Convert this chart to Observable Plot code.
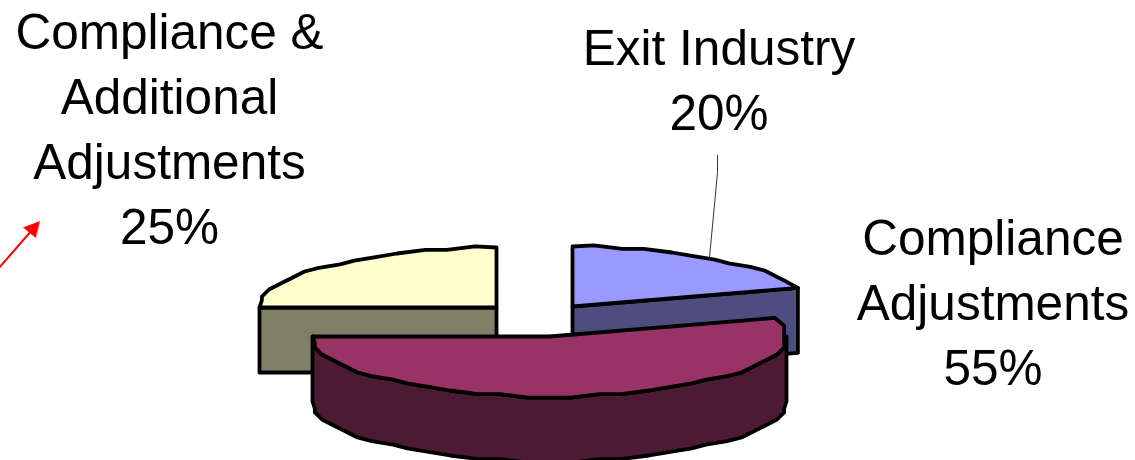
<!DOCTYPE html>
<html>
<head>
<meta charset="utf-8">
<script src="https://cdn.jsdelivr.net/npm/d3@7"></script>
<script src="https://cdn.jsdelivr.net/npm/@observablehq/plot@0.6"></script>
<style>html,body{margin:0;padding:0;background:#fff}svg{display:block}</style>
</head>
<body>
<div id="chart"></div>
<script>
// Data
const categories = ["Compliance &\nAdditional\nAdjustments", "Exit Industry", "Compliance\nAdjustments"];
const shares = [25, 20, 55];

// Layout (px; converted to radius units for the scales below)
const W = 1135, H = 460, CX = 549, CY = 336, RX = 237, RY = 60, DEPTH = 65;
const toX = px => (px - CX) / RX, toY = py => (CY - py) / RY;
const depth = DEPTH / RY;
const STEP = 6, QX = 0.03, QY = 0.06;   // coarse raster of the arcs

// Pie layout: slices run clockwise from the top; yellow ends at 360°, blue starts at 0°.
const a = shares.map(s => s * 3.6);
const slices = [
  {a0: 360 - a[0], a1: 360, dx: toX(496), dy: toY(307), top: "#FFFFCC", side: "#808066"},
  {a0: 0, a1: a[1], dx: toX(572), dy: toY(306), top: "#9999FF", side: "#4D4D80"},
  {a0: a[1], a1: a[1] + a[2], dx: 0, dy: 0, top: "#993366", side: "#4D1A33"}
];

function rim(s, a0, a1) {
  const pts = [];
  const n = Math.max(1, Math.round((a1 - a0) / STEP));
  for (let i = 0; i <= n; i++) {
    const t = (a0 + (a1 - a0) * i / n) * Math.PI / 180;
    const end = i === 0 || i === n;
    const ex = end ? Math.sin(t) : Math.round(Math.sin(t) / QX) * QX;
    const ey = end ? Math.cos(t) : Math.round(Math.cos(t) / QY) * QY;
    const p = {x: s.dx + ex, y: s.dy + ey};
    const q = pts[pts.length - 1];
    if (!q || q.x !== p.x || q.y !== p.y) pts.push(p);
  }
  return pts;
}
const apex = s => ({x: s.dx, y: s.dy});
const down = p => ({x: p.x, y: p.y - depth});

const face = (pts, fill) => Plot.line(pts, {
  x: "x", y: "y", fill, stroke: "#000", strokeWidth: 3.8,
  curve: "linear-closed", strokeLinejoin: "round"
});

const [yellow, blue, red] = slices;

// yellow: cut face along its left radius
const yStart = rim(yellow, yellow.a0, yellow.a0)[0];
const yellowWall = [yStart, apex(yellow), down(apex(yellow)), down(yStart)];
const yellowTop = [apex(yellow), ...rim(yellow, yellow.a0, yellow.a1)];

// blue: cut face along its right radius
const bEnd = rim(blue, blue.a1, blue.a1)[0];
const blueWall = [apex(blue), bEnd, down(bEnd), down(apex(blue))];
const blueTop = [apex(blue), ...rim(blue, blue.a0, blue.a1)];

// red: outer wall on the front half of the rim (90° to 270°), then the top
const redFront = rim(red, 90, red.a1);
const redWall = [...redFront, ...redFront.slice().reverse().map(down)];
const redTop = [apex(red), ...rim(red, red.a0, red.a1)];

// Labels and annotations
const labels = [
  {x: toX(169), y: toY(243), text: `${categories[0]}\n${shares[0]}%`},
  {x: toX(718.5), y: toY(129.5), text: `${categories[1]}\n${shares[1]}%`},
  {x: toX(992.5), y: toY(384), text: `${categories[2]}\n${shares[2]}%`}
];
const leader = [[717, 155], [717, 172], [709, 257]].map(([x, y]) => ({x: toX(x), y: toY(y)}));
const arrowShaft = [[-2, 268], [32, 229]].map(([x, y]) => ({x: toX(x), y: toY(y)}));
const arrowHead = [[39, 221], [23, 227], [35, 237]].map(([x, y]) => ({x: toX(x), y: toY(y)}));

const plot = Plot.plot({
  width: W, height: H,
  margin: 0,
  x: {axis: null, domain: [toX(0), toX(W)], range: [0, W]},
  y: {axis: null, domain: [toY(H), toY(0)], range: [H, 0]},
  style: {background: "#fff"},
  marks: [
    face(yellowWall, yellow.side),
    face(yellowTop, yellow.top),
    face(blueWall, blue.side),
    face(blueTop, blue.top),
    face(redWall, red.side),
    face(redTop, red.top),
    Plot.line(leader, {x: "x", y: "y", stroke: "#000", strokeWidth: 0.8}),
    Plot.line(arrowShaft, {x: "x", y: "y", stroke: "#f00", strokeWidth: 2}),
    Plot.line(arrowHead, {x: "x", y: "y", fill: "#f00", stroke: "#f00", strokeWidth: 0.5, curve: "linear-closed"}),
    Plot.text(labels, {
      x: "x", y: "y", text: "text", fill: "#000", fontSize: 49.5,
      fontFamily: "Liberation Sans", textAnchor: "middle", lineAnchor: "bottom", lineHeight: 1.31
    })
  ]
});
document.getElementById("chart").appendChild(plot);
</script>
</body>
</html>
